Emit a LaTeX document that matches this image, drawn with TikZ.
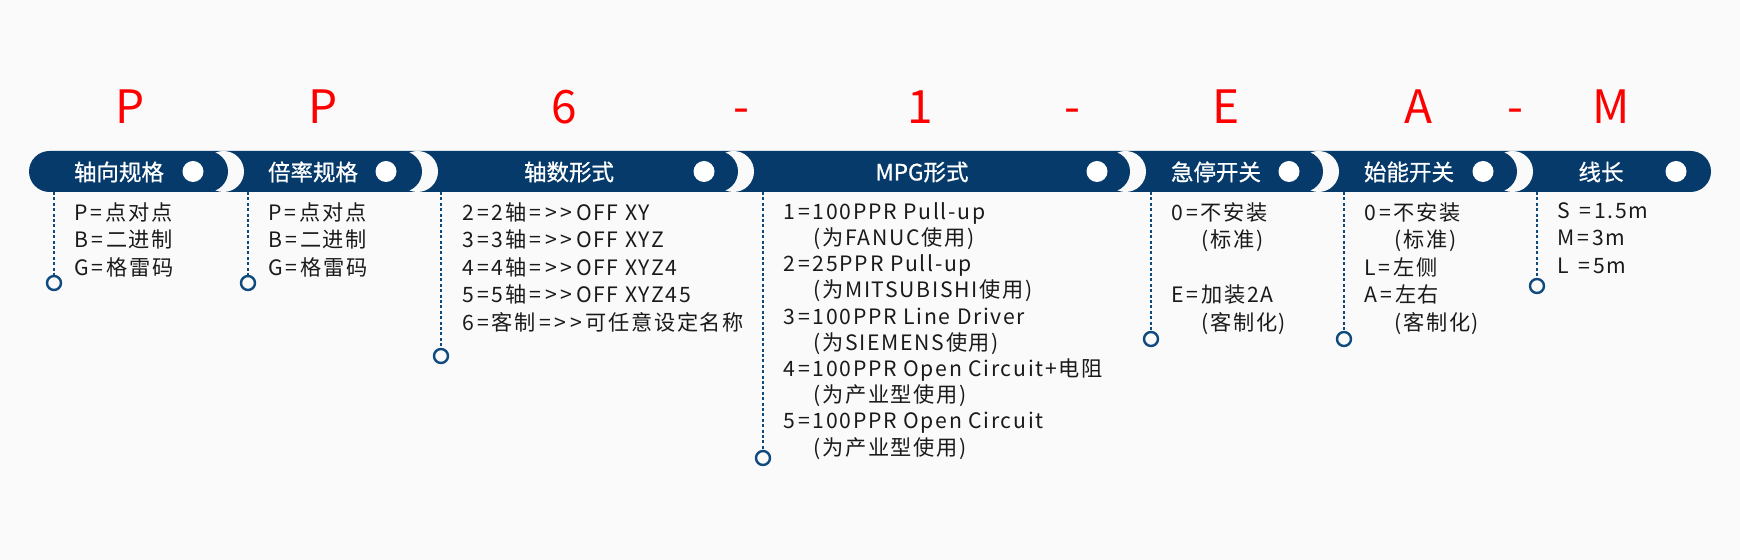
\documentclass[tikz,border=0pt]{standalone}
\usepackage{fontspec}
\setmainfont{Noto Sans CJK SC}
\newfontfamily\bodyfont{Noto Sans CJK SC}[LetterSpace=8]
\newfontfamily\headfont{Noto Sans CJK SC}[FakeBold=0.8]
\definecolor{barblue}{HTML}{053A6A}
\definecolor{bgc}{HTML}{FAFAFA}
\definecolor{ringblue}{HTML}{0E4A7E}
\definecolor{txt}{HTML}{1A1A1A}
\definecolor{codered}{HTML}{FF0000}
\tikzset{
  code/.style={text=codered, font=\fontsize{23}{27}\selectfont, anchor=base, inner sep=0pt},
  head/.style={text=white, font=\headfont\fontsize{11.25}{13}\selectfont, inner sep=0pt},
  hdot/.style={circle, fill=white, minimum size=10.5pt, inner sep=0pt},
  body/.style={text=txt, font=\bodyfont\fontsize{10.6}{13.75}\selectfont, align=left, anchor=north west, inner sep=0pt},
  guide/.style={draw=ringblue, line width=1pt, dash pattern=on 1.5pt off 1.2pt},
  ring/.style={circle, draw=ringblue, line width=1.2pt, fill=bgc, minimum size=7pt, inner sep=0pt}
}
\newcommand{\ind}{\hspace*{15pt}}
\newcommand{\myeq}{\kern1.5pt=\kern1.5pt}
\newcommand{\mygt}{\kern0.5pt>\kern1.8pt>\kern1.8pt}
\begin{document}
\begin{tikzpicture}[x=0.5pt,y=-0.5pt]
\fill[bgc] (0,0) rectangle (1740,560);
\useasboundingbox (0,0) rectangle (1740,560);
% bar
\fill[barblue, rounded corners=10.25pt] (29,151) rectangle (1711,192);
\foreach \e in {228,422,738,1130,1323,1517} {
  \fill[bgc] (\e-20.5+16,171.5) circle[radius=10.25pt];
  \fill[barblue] (\e-20.5,171.5) circle[radius=10.25pt];
}
% code letters
\node[code] (k1) at (130,124) {P};
\node[code] (k2) at (323,124) {P};
\node[code] (k3) at (564,124) {6};
\node[code] (k4) at (741,124) {-};
\node[code] (k5) at (920,124) {1};
\node[code] (k6) at (1072,124) {-};
\node[code] (k7) at (1226,124) {E};
\node[code] (k8) at (1418,124) {A};
\node[code] (k9) at (1515,124) {-};
\node[code] (k10) at (1611,124) {M};
% headers
\node[head] (h1) at (119,172) {轴向规格};
\node[head] (h2) at (313,172) {倍率规格};
\node[head] (h3) at (569,172) {轴数形式};
\node[head] (h4) at (922,172) {MPG形式};
\node[head] (h5) at (1216,172) {急停开关};
\node[head] (h6) at (1409,172) {始能开关};
\node[head] (h7) at (1601,172) {线长};
\foreach \x [count=\i] in {193,386,704,1097,1289,1483,1676} {
  \node[hdot] (d\i) at (\x,171.5) {};
}
% guides
\foreach \x/\y [count=\i] in {54/283,248/283,441/356,763/458,1151/339,1344/339,1537/286} {
  \coordinate (t\i) at (\x,192);
  \node[ring] (r\i) at (\x,\y) {};
  \draw[guide] (t\i) -- (r\i.north);
}
% body texts
\node[body] (b1) at (74,202) {P\myeq 点对点\\B\myeq 二进制\\G\myeq 格雷码};
\node[body] (b2) at (268,202) {P\myeq 点对点\\B\myeq 二进制\\G\myeq 格雷码};
\node[body] (b3) at (462,202) {2\myeq 2轴\myeq\mygt OFF XY\\3\myeq 3轴\myeq\mygt OFF XYZ\\4\myeq 4轴\myeq\mygt OFF XYZ4\\5\myeq 5轴\myeq\mygt OFF XYZ45\\6\myeq 客制\myeq\mygt 可任意设定名称};
\node[body, font=\bodyfont\fontsize{10.6}{13.1}\selectfont] (b4) at (783,202) {1\myeq 100PPR Pull-up\\\ind(为FANUC使用)\\2\myeq 25PPR Pull-up\\\ind(为MITSUBISHI使用)\\3\myeq 100PPR Line Driver\\\ind(为SIEMENS使用)\\4\myeq 100PPR Open Circuit+电阻\\\ind(为产业型使用)\\5\myeq 100PPR Open Circuit\\\ind(为产业型使用)};
\node[body] (b5) at (1171,202) {0\myeq 不安装\\\ind(标准)\\[13.75pt]E\myeq 加装2A\\\ind(客制化)};
\node[body] (b6) at (1364,202) {0\myeq 不安装\\\ind(标准)\\L\myeq 左侧\\A\myeq 左右\\\ind(客制化)};
\node[body] (b7) at (1557,202) {S \myeq 1.5m\\M\myeq 3m\\L \myeq 5m};
\end{tikzpicture}
\end{document}
